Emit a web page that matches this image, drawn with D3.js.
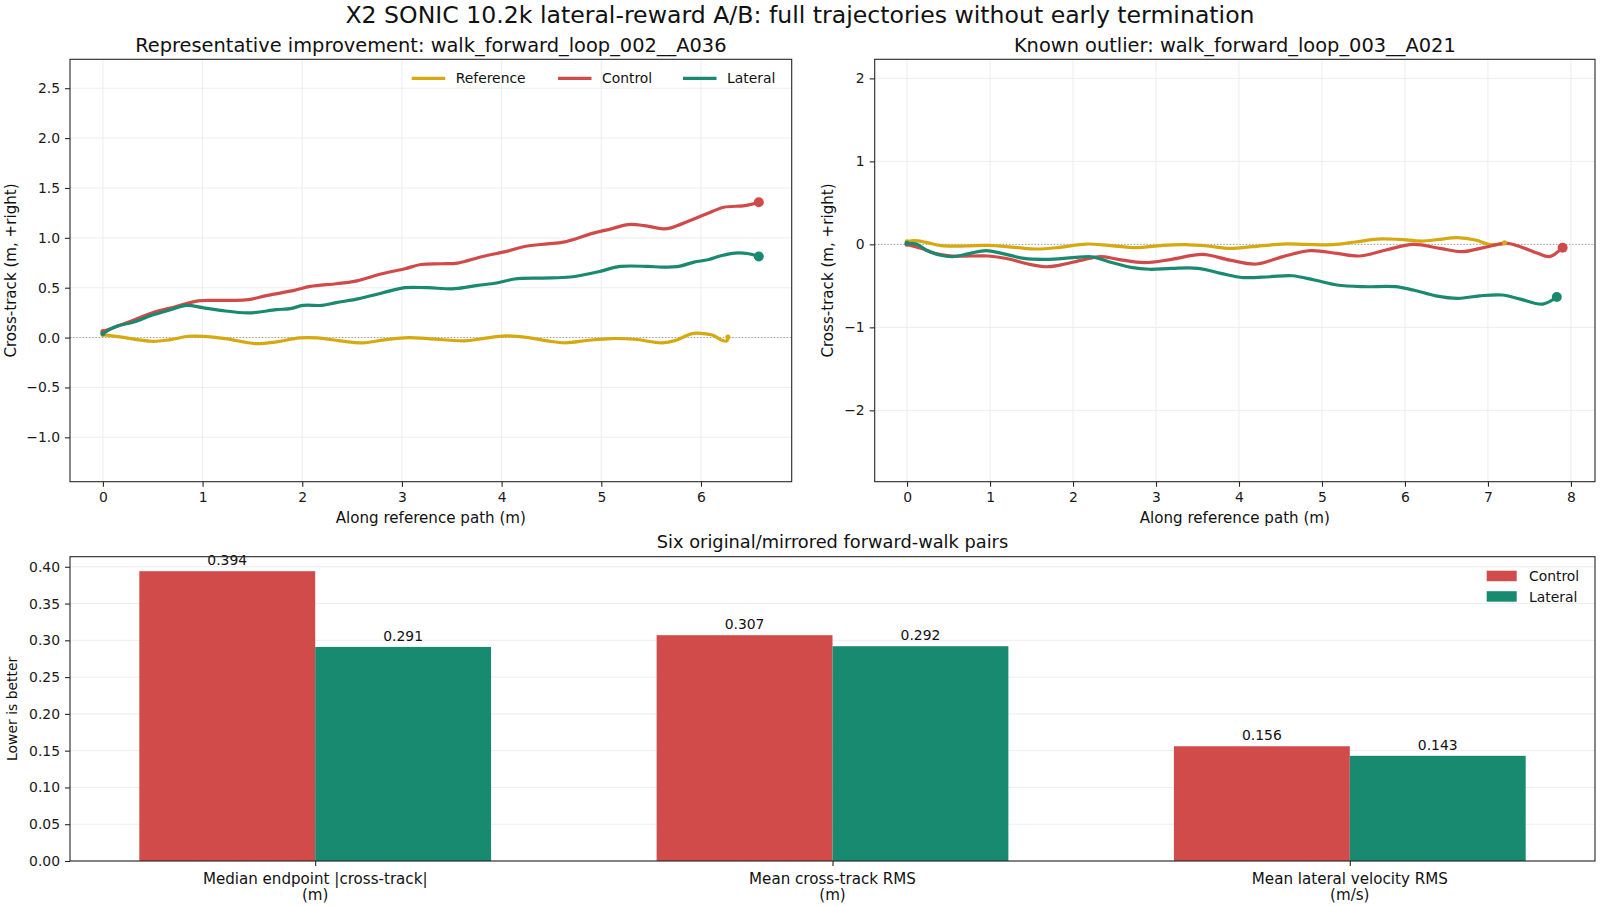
<!DOCTYPE html>
<html>
<head>
<meta charset="utf-8">
<script src="https://cdn.jsdelivr.net/npm/d3@7"></script>
<style>
  body { margin: 0; background: #fff; }
  svg { display: block; font-family: "DejaVu Sans", sans-serif; }
</style>
</head>
<body>
<svg id="chart" width="1600" height="906"></svg>
<script>
// ---------- DATA ----------
const seriesNames = ["Reference", "Control", "Lateral"];

// Panel A: walk_forward_loop_002__A036
const aRefX = [0, 0.17, 0.49, 0.68, 0.86, 1.0, 1.23, 1.53, 1.74, 1.97, 2.15, 2.38, 2.61, 2.84, 3.07, 3.26, 3.63, 3.81, 4.04, 4.27, 4.46, 4.64, 4.87, 5.10, 5.33, 5.61, 5.75, 5.91, 6.02, 6.12, 6.21, 6.26, 6.27];
const aRefY = [0.03, 0.007, -0.037, -0.02, 0.013, 0.013, -0.01, -0.06, -0.043, -0.003, -0.003, -0.033, -0.053, -0.02, 0.0, -0.01, -0.033, -0.01, 0.017, 0.0, -0.033, -0.053, -0.027, -0.01, -0.017, -0.053, -0.027, 0.04, 0.04, 0.023, -0.027, -0.033, 0.007];
const aCtlX = [0, 0.26, 0.49, 0.72, 0.93, 1.09, 1.28, 1.46, 1.65, 1.92, 2.08, 2.34, 2.52, 2.80, 3.03, 3.19, 3.40, 3.56, 3.81, 4.06, 4.23, 4.46, 4.62, 4.92, 5.10, 5.27, 5.43, 5.62, 5.70, 5.89, 6.07, 6.23, 6.44, 6.58];
const aCtlY = [0.06, 0.157, 0.247, 0.307, 0.363, 0.373, 0.373, 0.38, 0.423, 0.473, 0.513, 0.54, 0.563, 0.64, 0.69, 0.733, 0.74, 0.747, 0.813, 0.867, 0.913, 0.94, 0.957, 1.047, 1.09, 1.133, 1.123, 1.09, 1.10, 1.173, 1.247, 1.307, 1.323, 1.357];
const aLatX = [0, 0.12, 0.31, 0.49, 0.68, 0.84, 1.0, 1.18, 1.46, 1.74, 1.88, 2.01, 2.20, 2.34, 2.57, 2.80, 3.03, 3.26, 3.53, 3.76, 3.95, 4.13, 4.41, 4.69, 4.96, 5.19, 5.47, 5.61, 5.79, 5.93, 6.07, 6.21, 6.34, 6.48, 6.58];
const aLatY = [0.04, 0.107, 0.157, 0.223, 0.28, 0.323, 0.30, 0.273, 0.247, 0.28, 0.29, 0.323, 0.323, 0.35, 0.39, 0.447, 0.50, 0.50, 0.49, 0.523, 0.547, 0.587, 0.597, 0.607, 0.657, 0.713, 0.713, 0.707, 0.717, 0.757, 0.78, 0.823, 0.847, 0.84, 0.813];

// Panel B: walk_forward_loop_003__A021
const bRefX = [0, 0.09, 0.23, 0.41, 0.71, 0.98, 1.30, 1.57, 1.84, 2.16, 2.43, 2.76, 3.08, 3.35, 3.62, 3.89, 4.16, 4.53, 4.80, 5.13, 5.40, 5.67, 5.93, 6.20, 6.42, 6.63, 6.85, 7.01, 7.12, 7.20];
const bRefY = [0.032, 0.044, 0.024, -0.016, -0.02, -0.012, -0.036, -0.056, -0.036, 0.004, -0.012, -0.04, -0.012, -0.004, -0.02, -0.048, -0.028, 0.004, 0.0, -0.004, 0.028, 0.064, 0.06, 0.04, 0.06, 0.08, 0.052, 0.0, 0.0, 0.02];
const bCtlX = [0, 0.17, 0.33, 0.55, 0.98, 1.20, 1.46, 1.68, 1.84, 2.11, 2.33, 2.54, 2.86, 3.19, 3.56, 3.89, 4.21, 4.53, 4.86, 5.18, 5.45, 5.77, 6.10, 6.42, 6.69, 6.96, 7.23, 7.39, 7.60, 7.74, 7.90];
const bCtlY = [0.0, -0.048, -0.108, -0.14, -0.14, -0.17, -0.237, -0.27, -0.25, -0.19, -0.148, -0.18, -0.22, -0.18, -0.12, -0.19, -0.237, -0.148, -0.076, -0.108, -0.14, -0.068, 0.0, -0.048, -0.088, -0.036, 0.012, -0.028, -0.108, -0.148, -0.04];
const bLatX = [0, 0.12, 0.23, 0.39, 0.55, 0.76, 0.95, 1.14, 1.41, 1.68, 2.00, 2.22, 2.43, 2.70, 2.92, 3.19, 3.51, 3.78, 4.05, 4.37, 4.64, 4.91, 5.18, 5.50, 5.88, 6.10, 6.37, 6.64, 6.90, 7.17, 7.39, 7.66, 7.83];
const bLatY = [0.012, 0.0, -0.068, -0.128, -0.149, -0.108, -0.076, -0.108, -0.169, -0.18, -0.16, -0.149, -0.209, -0.277, -0.30, -0.289, -0.289, -0.349, -0.40, -0.39, -0.378, -0.43, -0.49, -0.51, -0.51, -0.55, -0.62, -0.65, -0.62, -0.61, -0.66, -0.72, -0.635];

// Panel C: bar summary
const barCategories = [["Median endpoint |cross-track|", "(m)"], ["Mean cross-track RMS", "(m)"], ["Mean lateral velocity RMS", "(m/s)"]];
const controlValues = [0.394, 0.307, 0.156];
const lateralValues = [0.291, 0.292, 0.143];

const aTicksY = [-1.0, -0.5, 0, 0.5, 1.0, 1.5, 2.0, 2.5];
const aTicksX = [0, 1, 2, 3, 4, 5, 6];
const bTicksY = [-2, -1, 0, 1, 2];
const bTicksX = [0, 1, 2, 3, 4, 5, 6, 7, 8];
const cTicksY = [0, 0.05, 0.10, 0.15, 0.20, 0.25, 0.30, 0.35, 0.40];

// ---------- STYLE ----------
const COLORS = { Reference: "#d5a90f", Control: "#d14a4a", Lateral: "#198a6f" };
const BAR_COLORS = { Control: "#d14b4b", Lateral: "#188a70" };
const GRID = "#ebebeb";
const SPINE = "#262626";
const TICK_FS = 13.9;
const LABEL_FS = 15.1;
const TITLE_FS = 19.4;

const svg = d3.select("#chart");

svg.append("text").attr("x", 800).attr("y", 22.6).attr("text-anchor", "middle")
  .attr("font-size", 23.6).attr("fill", "#111")
  .text("X2 SONIC 10.2k lateral-reward A/B: full trajectories without early termination");

function zip(xs, ys) { return xs.map((x, i) => [x, ys[i]]); }

function styleAxis(g) {
  g.selectAll(".domain").remove();
  g.selectAll(".tick line").attr("stroke", SPINE).attr("stroke-width", 1.1);
  g.selectAll(".tick text").attr("font-size", TICK_FS).attr("fill", "#1a1a1a")
    .attr("font-family", "DejaVu Sans, sans-serif");
}

function trajPanel(cfg) {
  const { x0, x1, y0, y1, xDom, yDom, xt, yt, yFmt, title, series, legend } = cfg;
  const x = d3.scaleLinear().domain(xDom).range([x0, x1]);
  const y = d3.scaleLinear().domain(yDom).range([y1, y0]);
  const g = svg.append("g");
  const clipId = "clip" + Math.round(x0);
  svg.append("clipPath").attr("id", clipId).append("rect")
    .attr("x", x0).attr("y", y0).attr("width", x1 - x0).attr("height", y1 - y0);

  // grid
  g.append("g").selectAll("line").data(xt).join("line")
    .attr("x1", d => x(d)).attr("x2", d => x(d)).attr("y1", y0).attr("y2", y1)
    .attr("stroke", GRID).attr("stroke-width", 0.9);
  g.append("g").selectAll("line").data(yt).join("line")
    .attr("y1", d => y(d)).attr("y2", d => y(d)).attr("x1", x0).attr("x2", x1)
    .attr("stroke", GRID).attr("stroke-width", 0.9);
  // zero line
  g.append("line").attr("x1", x0).attr("x2", x1).attr("y1", y(0)).attr("y2", y(0))
    .attr("stroke", "#8a8a8a").attr("stroke-width", 0.9).attr("stroke-dasharray", "1.2,2");

  const line = d3.line().x(d => x(d[0])).y(d => y(d[1])).curve(d3.curveCatmullRom.alpha(0.5));
  const plot = g.append("g").attr("clip-path", `url(#${clipId})`);
  series.forEach(s => {
    const pts = zip(s.xs, s.ys);
    plot.append("path").datum(pts).attr("d", line).attr("fill", "none")
      .attr("stroke", COLORS[s.name]).attr("stroke-width", 3.2).attr("stroke-linejoin", "round")
      .attr("stroke-linecap", "round");
  });
  series.forEach(s => {
    const pts = zip(s.xs, s.ys);
    const st = pts[0], en = pts[pts.length - 1];
    plot.append("circle").attr("cx", x(st[0])).attr("cy", y(st[1])).attr("r", 2.5)
      .attr("fill", COLORS[s.name]);
    plot.append("circle").attr("cx", x(en[0])).attr("cy", y(en[1]))
      .attr("r", s.name === "Reference" ? 2.5 : 5).attr("fill", COLORS[s.name]);
  });

  // axes
  const ax = g.append("g").attr("transform", `translate(0,${y1})`)
    .call(d3.axisBottom(x).tickValues(xt).tickFormat(d3.format("d")).tickSize(5).tickPadding(5));
  styleAxis(ax);
  const ay = g.append("g").attr("transform", `translate(${x0},0)`)
    .call(d3.axisLeft(y).tickValues(yt).tickFormat(d3.format(yFmt)).tickSize(5).tickPadding(5));
  styleAxis(ay);
  g.append("rect").attr("x", x0).attr("y", y0).attr("width", x1 - x0).attr("height", y1 - y0)
    .attr("fill", "none").attr("stroke", SPINE).attr("stroke-width", 1.1);

  g.append("text").attr("x", (x0 + x1) / 2).attr("y", 52).attr("text-anchor", "middle")
    .attr("font-size", TITLE_FS).attr("fill", "#111").text(title);
  g.append("text").attr("x", (x0 + x1) / 2).attr("y", y1 + 41).attr("text-anchor", "middle")
    .attr("font-size", LABEL_FS).attr("fill", "#111").text("Along reference path (m)");
  g.append("text").attr("transform", `translate(${cfg.ylabX},${(y0 + y1) / 2}) rotate(-90)`)
    .attr("text-anchor", "middle").attr("dy", "0.35em")
    .attr("font-size", LABEL_FS).attr("fill", "#111").text("Cross-track (m, +right)");

  if (legend) {
    const lx = [411.7, 558, 683];
    seriesNames.forEach((n, i) => {
      g.append("line").attr("x1", lx[i]).attr("x2", lx[i] + 33.5).attr("y1", 78.3).attr("y2", 78.3)
        .attr("stroke", COLORS[n]).attr("stroke-width", 3.2);
      g.append("text").attr("x", lx[i] + 44).attr("y", 78.3).attr("dy", "0.35em")
        .attr("font-size", TICK_FS).attr("fill", "#111").text(n);
    });
  }
}

trajPanel({
  x0: 70, x1: 791.7, y0: 59.3, y1: 481.7, xDom: [-0.33, 6.91], yDom: [-1.445, 2.79],
  xt: aTicksX, yt: aTicksY, yFmt: ".1f", ylabX: 11,
  title: "Representative improvement: walk_forward_loop_002__A036",
  series: [
    { name: "Reference", xs: aRefX, ys: aRefY },
    { name: "Control", xs: aCtlX, ys: aCtlY },
    { name: "Lateral", xs: aLatX, ys: aLatY }
  ],
  legend: true
});

trajPanel({
  x0: 874.7, x1: 1595, y0: 59.3, y1: 481.7, xDom: [-0.39, 8.29], yDom: [-2.86, 2.23],
  xt: bTicksX, yt: bTicksY, yFmt: "d", ylabX: 828,
  title: "Known outlier: walk_forward_loop_003__A021",
  series: [
    { name: "Reference", xs: bRefX, ys: bRefY },
    { name: "Control", xs: bCtlX, ys: bCtlY },
    { name: "Lateral", xs: bLatX, ys: bLatY }
  ],
  legend: false
});

// ---------- BAR PANEL ----------
(function () {
  const x0 = 70, x1 = 1595, y0 = 556.7, y1 = 861;
  const barW = 0.34;
  const x = d3.scaleLinear().domain([-0.474, 2.474]).range([x0, x1]);
  const y = d3.scaleLinear().domain([0, 0.4137]).range([y1, y0]);
  const g = svg.append("g");

  g.append("g").selectAll("line").data(cTicksY).join("line")
    .attr("y1", d => y(d)).attr("y2", d => y(d)).attr("x1", x0).attr("x2", x1)
    .attr("stroke", GRID).attr("stroke-width", 0.9);

  const groups = [
    { name: "Control", vals: controlValues, off: -barW / 2 },
    { name: "Lateral", vals: lateralValues, off: barW / 2 }
  ];
  groups.forEach(gr => {
    g.append("g").selectAll("rect").data(gr.vals).join("rect")
      .attr("x", (d, i) => x(i + gr.off - barW / 2))
      .attr("width", x(barW) - x(0))
      .attr("y", d => y(d)).attr("height", d => y1 - y(d))
      .attr("fill", BAR_COLORS[gr.name]);
    g.append("g").selectAll("text").data(gr.vals).join("text")
      .attr("x", (d, i) => x(i + gr.off)).attr("y", d => y(d) - 6)
      .attr("text-anchor", "middle").attr("font-size", TICK_FS).attr("fill", "#111")
      .text(d => d3.format(".3f")(d));
  });

  const ay = g.append("g").attr("transform", `translate(${x0},0)`)
    .call(d3.axisLeft(y).tickValues(cTicksY).tickFormat(d3.format(".2f")).tickSize(5).tickPadding(5));
  styleAxis(ay);
  const ax = g.append("g").attr("transform", `translate(0,${y1})`)
    .call(d3.axisBottom(x).tickValues([0, 1, 2]).tickFormat("").tickSize(5));
  styleAxis(ax);
  barCategories.forEach((lines, i) => {
    lines.forEach((t, j) => {
      g.append("text").attr("x", x(i)).attr("y", 883.5 + j * 16.5).attr("text-anchor", "middle")
        .attr("font-size", LABEL_FS).attr("fill", "#111").text(t);
    });
  });

  g.append("rect").attr("x", x0).attr("y", y0).attr("width", x1 - x0).attr("height", y1 - y0)
    .attr("fill", "none").attr("stroke", SPINE).attr("stroke-width", 1.1);

  g.append("text").attr("x", (x0 + x1) / 2).attr("y", 547.5).attr("text-anchor", "middle")
    .attr("font-size", 17.8).attr("fill", "#111").text("Six original/mirrored forward-walk pairs");
  g.append("text").attr("transform", `translate(12,${(y0 + y1) / 2}) rotate(-90)`)
    .attr("text-anchor", "middle").attr("dy", "0.35em")
    .attr("font-size", TICK_FS).attr("fill", "#111").text("Lower is better");

  // legend
  ["Control", "Lateral"].forEach((n, i) => {
    g.append("rect").attr("x", 1486.7).attr("y", 570.7 + i * 20.5).attr("width", 30).attr("height", 10.5)
      .attr("fill", BAR_COLORS[n]);
    g.append("text").attr("x", 1529).attr("y", 576 + i * 20.7).attr("dy", "0.35em")
      .attr("font-size", TICK_FS).attr("fill", "#111").text(n);
  });
})();
</script>
</body>
</html>
